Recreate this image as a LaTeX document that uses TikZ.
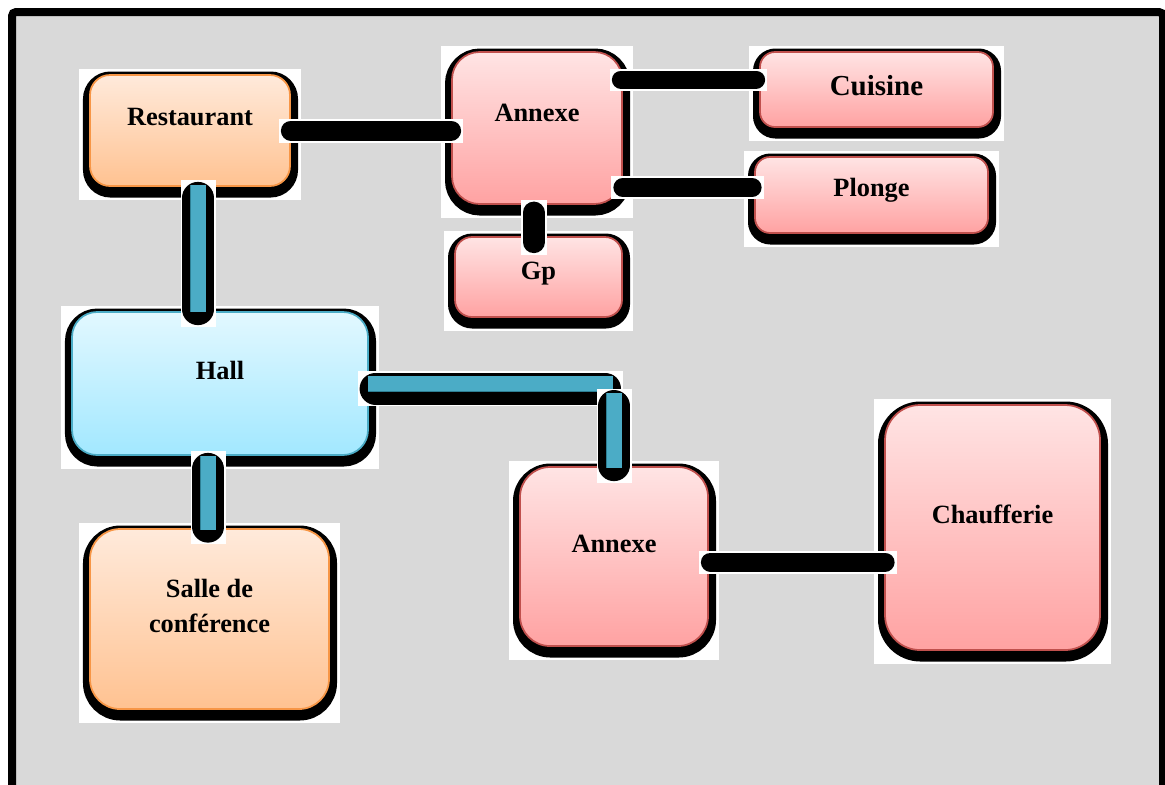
\documentclass[tikz,border=0pt]{standalone}
\usepackage{fontspec}
\setmainfont{Liberation Serif}
\usetikzlibrary{calc,backgrounds}
\definecolor{paper}{HTML}{D9D9D9}
\definecolor{peachtop}{HTML}{FFEADB}
\definecolor{peachbot}{HTML}{FFC291}
\definecolor{peachline}{HTML}{F79646}
\definecolor{rosetop}{HTML}{FFE4E4}
\definecolor{rosebot}{HTML}{FFA2A2}
\definecolor{roseline}{HTML}{C0504D}
\definecolor{skytop}{HTML}{E2F8FF}
\definecolor{skybot}{HTML}{A2E8FF}
\definecolor{skyline}{HTML}{4BACC6}
\definecolor{barblue}{HTML}{4BACC6}
\definecolor{barline}{HTML}{2E7F94}
\tikzset{
  frame/.style={fill=paper,draw=black,line width=1.6mm,rounded corners=0.8mm},
  room/.style={rectangle,rounded corners=4mm,line width=0.35mm,inner sep=0pt,
    preaction={fill=black,draw=black,line width=3mm,transform canvas={shift={(0.1mm,-0.8mm)}}}},
  peachroom/.style={room,draw=peachline,top color=peachtop,bottom color=peachbot},
  roseroom/.style={room,draw=roseline,top color=rosetop,bottom color=rosebot},
  skyroom/.style={room,draw=skyline,top color=skytop,bottom color=skybot},
  lbl/.style={font=\fontsize{15}{19.5}\selectfont\bfseries,text=black,align=center,inner sep=0pt},
  link/.style={draw=black,line cap=round,line width=#1,
    preaction={draw=white,line cap=rect,line width=#1+0.8mm}},
  link/.default=3.8mm,
  bar/.style={draw=barline,double=barblue,double distance=3mm,line width=0.1mm,
    preaction={draw=white,line width=7mm,shorten <=-1.9mm,shorten >=-1.9mm,transform canvas={yshift=-1mm}},
    preaction={draw=black,line width=6.4mm,line cap=round,shorten <=1.6mm,shorten >=1.6mm,transform canvas={yshift=-1mm}}},
}

\begin{document}
\begin{tikzpicture}[x=0.2mm,y=-0.2mm]
\useasboundingbox (0,0) rectangle (1165,784);

% rooms
\node[peachroom,minimum width=40mm,minimum height=22.2mm,label={[lbl,yshift=2.7mm]center:Restaurant}] (rest) at (190,130.5) {};
\node[roseroom,rounded corners=5.5mm,minimum width=34mm,minimum height=30.4mm,label={[lbl,yshift=3mm]center:Annexe}] (annexeA) at (537,128) {};
\node[roseroom,rounded corners=3mm,minimum width=46.6mm,minimum height=15mm,label={[lbl,font=\fontsize{16.5}{20}\selectfont\bfseries,yshift=0.7mm]center:Cuisine}] (cuisine) at (876.5,89.5) {};
\node[roseroom,rounded corners=3mm,minimum width=46.6mm,minimum height=15.2mm,label={[lbl,yshift=0.9mm]center:Plonge}] (plonge) at (871.5,195) {};
\node[roseroom,rounded corners=3.4mm,minimum width=33.4mm,minimum height=16mm,label={[lbl,yshift=0.6mm]center:Gp}] (gp) at (538.5,277) {};
\node[skyroom,rounded corners=5mm,minimum width=59.2mm,minimum height=28.6mm,label={[lbl,yshift=2.7mm]center:Hall}] (hall) at (220,383.5) {};
\node[peachroom,rounded corners=6mm,minimum width=47.8mm,minimum height=36mm,label={[lbl,yshift=2.6mm]center:Salle de\\conférence}] (salle) at (209.5,619) {};
\node[roseroom,rounded corners=6mm,minimum width=37.6mm,minimum height=35.8mm,label={[lbl,yshift=2.5mm]center:Annexe}] (annexeB) at (614,556.5) {};
\node[roseroom,rounded corners=7mm,minimum width=43mm,minimum height=49mm,label={[lbl,yshift=2.7mm]center:Chaufferie}] (chauff) at (992.5,527.5) {};

% sheet and white cut-outs behind the rooms
\begin{scope}[on background layer]
  \draw[frame] (12,12) rectangle (1163,800);
  \foreach \n in {rest,annexeA,cuisine,plonge,gp,hall,salle,annexeB,chauff}
    \fill[white] ($(\n.north west)+(-10,-5)$) rectangle ($(\n.south east)+(10,13)$);
\end{scope}

% black links
\draw[link=4mm] (rest.east) -- (rest.east -| annexeA.west);
\draw[link=3.6mm] ($(annexeA.east |- cuisine.west)+(-2,-10)$) -- ($(cuisine.west)+(-3,-10)$);
\draw[link] ($(annexeA.east |- plonge.west)+(0,-7.5)$) -- ($(plonge.west)+(-2,-7.5)$);
\draw[link=4.4mm] ($(annexeA.south)+(-3.3,7.7)$) -- ($(annexeA.south |- gp.north)+(-3.3,6)$);
\draw[link] ($(annexeB.east)+(1.5,5.5)$) -- ($(annexeB.east -| chauff.west)+(1,5.5)$);

% blue corridors
\draw[bar] ($(rest.south)+(8,-2)$) -- ($(rest.south |- hall.north)+(8,1)$);
\coordinate (bend) at ($(hall.east -| annexeB.north)+(-1,0)$);
\draw[bar] ($(hall.east)+(-1.3,0)$) -- (bend);
\draw[bar] ($(bend)+(1,9.5)$) -- ($(annexeB.north)+(0,2)$);
\draw[bar] ($(salle.north |- hall.south)+(-1.5,0)$) -- ($(salle.north)+(-1.5,1.5)$);

\end{tikzpicture}
\end{document}
